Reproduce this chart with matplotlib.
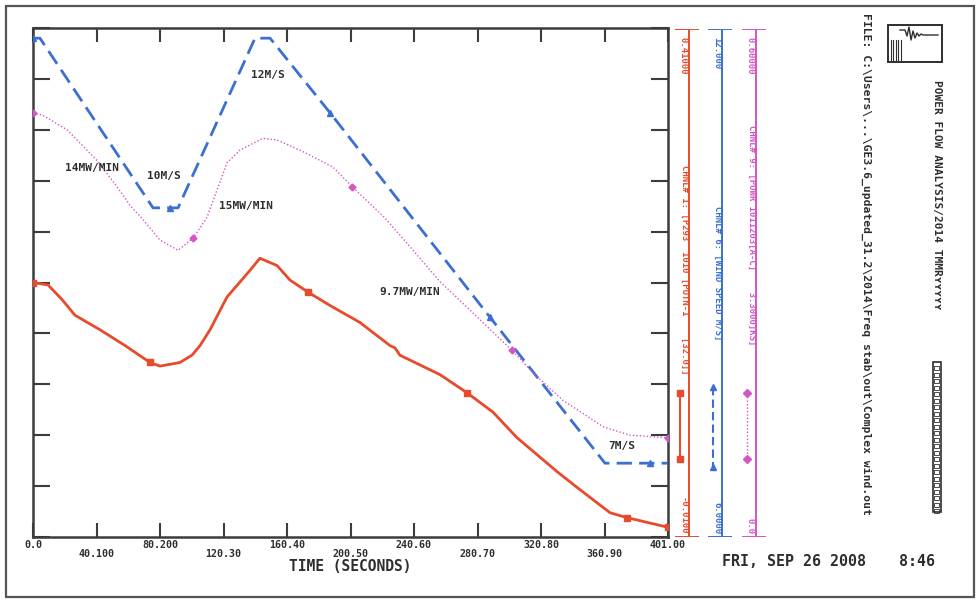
import numpy as np
import matplotlib
matplotlib.use("Agg")
import matplotlib.pyplot as plt
from matplotlib.patches import Rectangle
from matplotlib.lines import Line2D
from matplotlib.transforms import ScaledTranslation

# ---------------- data ----------------
x_ticks = [0.0, 40.1, 80.2, 120.3, 160.4, 200.5, 240.6, 280.7, 320.8, 360.9, 401.0]
x_tick_labels = ['0.0', '40.100', '80.200', '120.30', '160.40', '200.50',
                 '240.60', '280.70', '320.80', '360.90', '401.00']

# channel 1 (red, solid)
ch1_t = [0.0, 9.5, 18.3, 26.5, 42.3, 58.1, 73.9, 80.2, 92.8, 100.4, 105.5, 111.8,
         122.5, 137.0, 143.3, 154.1, 162.3, 173.7, 187.6, 206.5, 225.4, 228.6,
         231.7, 257.0, 274.1, 290.5, 305.6, 330.9, 343.5, 364.4, 375.1, 401.0]
ch1_v = [0.200, 0.198, 0.186, 0.173, 0.161, 0.148, 0.134, 0.131, 0.134, 0.140, 0.148, 0.161,
         0.188, 0.210, 0.220, 0.214, 0.202, 0.192, 0.181, 0.167, 0.148, 0.146,
         0.140, 0.124, 0.109, 0.093, 0.072, 0.044, 0.031, 0.010, 0.006, -0.002]
ch1_marks = [0, 6, 17, 24, 30, 31]

# channel 6 (blue, dashed) wind speed
ch6_t = [0.0, 4.4, 75.8, 86.5, 91.6, 140.2, 149.7, 187.6, 288.6, 361.2, 389.6, 401.0]
ch6_v = [11.88, 11.88, 9.88, 9.88, 9.88, 11.88, 11.88, 11.00, 8.59, 6.87, 6.87, 6.87]
ch6_marks = [0, 3, 7, 8, 10]

# channel 9 (magenta, dotted) power
ch9_t = [0.0, 6.3, 21.5, 40.4, 53.0, 61.3, 69.5, 80.2, 91.6, 101.0, 109.9, 122.5,
         130.7, 145.2, 154.1, 168.6, 189.5, 201.5, 222.3, 240.0, 257.0, 277.9,
         302.5, 318.3, 334.7, 360.0, 377.0, 401.0]
ch9_v = [0.500, 0.497, 0.480, 0.444, 0.413, 0.391, 0.374, 0.350, 0.338, 0.352, 0.377, 0.441,
         0.456, 0.470, 0.468, 0.456, 0.436, 0.413, 0.376, 0.338, 0.301, 0.264,
         0.220, 0.189, 0.161, 0.130, 0.120, 0.117]
ch9_marks = [0, 9, 17, 22, 27]

ch_ranges = {'ch1': (-0.01, 0.41), 'ch6': (6.0, 12.0), 'ch9': (0.0, 0.6)}
ch_top_labels = ['0.41000', '12.000', '0.60000']
ch_bot_labels = ['-0.0100', '6.0000', '0.0']
ch_names = ['CHNL# 1: [P293  1010 [PUTN-1    [32.0]]',
            'CHNL# 6: [WIND SPEED M/S]',
            'CHNL# 9: [POWR 1011203[A-C]    3.3000]KS]']

annotations = [('14MW/MIN', 20.5, 0.435, 'ch9'), ('10M/S', 72.0, 10.26, 'ch6'),
               ('12M/S', 137.7, 11.45, 'ch6'), ('15MW/MIN', 117.5, 0.390, 'ch9'),
               ('9.7MW/MIN', 219.0, 0.289, 'ch9'), ('7M/S', 363.0, 7.07, 'ch6')]

RED = '#e84a2c'
BLUE = '#3b6fd2'
MAG = '#d455c4'
FRAME = '#3c3c3c'
TXT = '#2e2e2e'
MONO = 'DejaVu Sans Mono'

W, H = 979, 602
fig = plt.figure(figsize=(W / 100, H / 100), dpi=100)
fig.patch.set_facecolor('white')


def fr(x0, y0, x1, y1):
    return [x0 / W, 1 - y1 / H, (x1 - x0) / W, (y1 - y0) / H]


# outer frame
fig.add_artist(Rectangle((6 / W, 1 - 597 / H), 968 / W, 591 / H, transform=fig.transFigure,
                         fill=False, edgecolor='#555555', lw=1.6))

# ---------------- main axes ----------------
ax = fig.add_axes(fr(33, 28, 668, 537))
ax.set_xlim(0, 401)
ax.set_ylim(*ch_ranges['ch1'])
ax.plot(ch1_t, ch1_v, color=RED, lw=2.0, marker='s', markersize=4.5, markevery=ch1_marks, zorder=3)

ax6 = ax.twinx()
ax6.set_ylim(*ch_ranges['ch6'])
ax6.axis('off')
ax6.plot(ch6_t, ch6_v, color=BLUE, lw=2.0, ls=(0, (5.5, 2.6)), marker='^', markersize=4,
         markevery=ch6_marks)

ax9 = ax.twinx()
ax9.set_ylim(*ch_ranges['ch9'])
ax9.axis('off')
ax9.plot(ch9_t, ch9_v, color=MAG, lw=1.0, ls=(0, (1, 1.5)), marker='D', markersize=3.5,
         markevery=ch9_marks)

for s in ax.spines.values():
    s.set_color(FRAME)
    s.set_linewidth(1.8)
ax.set_xticks(x_ticks)
ax.set_xticklabels(x_tick_labels, fontfamily=MONO, fontweight='bold', fontsize=7.2, color=TXT)
ax.set_yticks(np.linspace(ch_ranges['ch1'][0], ch_ranges['ch1'][1], 11))
ax.set_yticklabels([])
ax.tick_params(axis='x', direction='in', length=10, width=1.5, color=FRAME, top=True, bottom=True, pad=2)
ax.tick_params(axis='y', direction='in', length=12, width=1.5, color=FRAME, left=True, right=True,
               labelleft=False, labelright=False)
for i, lbl in enumerate(ax.get_xticklabels()):
    if i % 2 == 1:
        lbl.set_transform(lbl.get_transform() + ScaledTranslation(0, -6.5 / 72, fig.dpi_scale_trans))
ax.set_xlabel('TIME (SECONDS)', fontfamily=MONO, fontweight='bold', fontsize=10.5, color=TXT, labelpad=0)

axes_by = {'ch1': ax, 'ch6': ax6, 'ch9': ax9}
for txt, tx, ty, ch in annotations:
    axes_by[ch].text(tx, ty, txt, fontfamily=MONO, fontweight='bold', fontsize=8, color=TXT,
                     ha='left', va='center')

# ---------------- channel scales on the right ----------------
chan_x = [689, 722, 756]
chan_col = [RED, BLUE, MAG]
chan_styles = [dict(ls='-', lw=1.5, marker='s'), dict(ls=(0, (4, 2)), lw=1.5, marker='^'),
               dict(ls=(0, (1, 1.5)), lw=1.0, marker='D')]
label_centers = [270, 273, 235]
sample_span = [(393, 459), (387, 467), (393, 459)]
for k, key in enumerate(['ch1', 'ch6', 'ch9']):
    x = chan_x[k]
    c = chan_col[k]
    cax = fig.add_axes(fr(x - 14, 29, x + 10, 537))
    cax.set_xlim(0, 1)
    cax.set_ylim(*ch_ranges[key])
    cax.axis('off')
    y0, y1 = ch_ranges[key]
    cax.plot([14 / 24, 14 / 24], [y0, y1], color=c, lw=1.4)
    cax.plot([0.05, 1.0], [y1, y1], color=c, lw=1.4)
    cax.plot([0.05, 1.0], [y0, y0], color=c, lw=1.4)
    cax.text(0.35, 0.985, ch_top_labels[k], transform=cax.transAxes, rotation=-90,
             ha='center', va='top', fontfamily=MONO, fontweight='bold', fontsize=6.5, color=c)
    cax.text(0.35, 0.005, ch_bot_labels[k], transform=cax.transAxes, rotation=-90,
             ha='center', va='bottom', fontfamily=MONO, fontweight='bold', fontsize=6.5, color=c)
    cax.text(0.42, 1 - (label_centers[k] - 29) / 508, ch_names[k], transform=cax.transAxes,
             rotation=-90, ha='center', va='center', fontfamily=MONO, fontweight='bold',
             fontsize=6.5, color=c)
    sa, sb = sample_span[k]
    st = chan_styles[k]
    cax.plot([0.2, 0.2], [1 - (sa - 29) / 508, 1 - (sb - 29) / 508], transform=cax.transAxes,
             color=c, ls=st['ls'], lw=st['lw'], marker=st['marker'], markersize=4)

# ---------------- header / footer text ----------------
fig.text(937 / W, 1 - 80 / H, 'POWER FLOW ANALYSIS/2014 TMMRʏʏʏʏʏ', rotation=-90,
         ha='center', va='top', fontfamily=MONO, fontweight='bold', fontsize=8.0, color=TXT)
fig.text(866 / W, 1 - 13 / H,
         'FILE: C:\\Users\\...\\GE3.6_updated_31.2\\2014\\Freq stab\\out\\Complex wind.out',
         rotation=-90, ha='center', va='top', fontfamily=MONO, fontweight='bold', fontsize=8.2,
         color=TXT)
fig.text(722 / W, 1 - 562 / H, 'FRI, SEP 26 2008', ha='left', va='center',
         fontfamily=MONO, fontweight='bold', fontsize=10.8, color=TXT)
fig.text(935 / W, 1 - 562 / H, '8:46', ha='right', va='center',
         fontfamily=MONO, fontweight='bold', fontsize=10.8, color=TXT)

# logo box
fig.add_artist(Rectangle((888 / W, 1 - 62 / H), 54 / W, 37 / H, transform=fig.transFigure,
                         fill=False, edgecolor=TXT, lw=1.4))
lx = np.array([900, 905, 907, 909, 911, 913, 915, 917, 919, 921, 923, 928, 938]) / W
ly = 1 - np.array([30, 30, 36, 27, 40, 31, 38, 33, 36, 34, 35, 35, 35]) / H
fig.add_artist(Line2D(lx, ly, transform=fig.transFigure, color=TXT, lw=1.0))
for i in range(5):
    fig.add_artist(Line2D([(891 + 2.5 * i) / W] * 2, [1 - 40 / H, 1 - 60 / H],
                          transform=fig.transFigure, color=TXT, lw=0.8))

# pattern bar
fig.add_artist(Rectangle((933 / W, 1 - 512 / H), 8 / W, 150 / H, transform=fig.transFigure,
                         fill=False, edgecolor=TXT, lw=1.2))
for yy in np.arange(366, 512, 6.5):
    fig.add_artist(Rectangle((934.5 / W, 1 - (yy + 4) / H), 5 / W, 4 / H,
                             transform=fig.transFigure, fill=False, edgecolor=TXT, lw=0.6))

fig.savefig('out.png', dpi=100)
